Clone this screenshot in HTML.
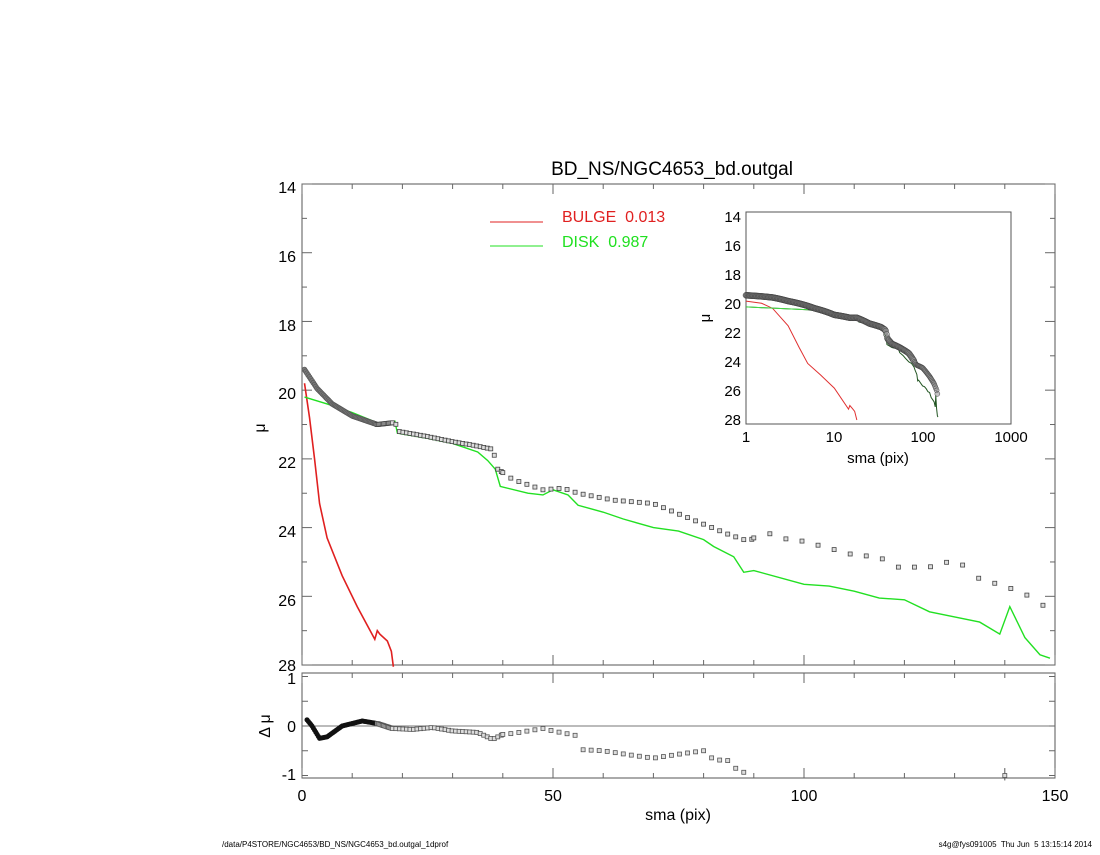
<!DOCTYPE html>
<html><head><meta charset="utf-8"><style>
html,body{margin:0;padding:0;background:#fff;}
svg text{font-family:"Liberation Sans",sans-serif;white-space:pre;}
</style></head><body>
<svg id="s" width="1100" height="850" xmlns="http://www.w3.org/2000/svg">
<rect width="1100" height="850" fill="#fff"/>
<text x="672" y="175" font-size="19" text-anchor="middle">BD_NS/NGC4653_bd.outgal</text>
<rect x="302" y="184" width="753" height="481" fill="none" stroke="#555" stroke-width="1"/>
<rect x="302" y="673" width="753" height="105" fill="none" stroke="#555" stroke-width="1"/>
<line x1="302" y1="726" x2="1055" y2="726" stroke="#777" stroke-width="1"/>
<g id="ticks" stroke="#666" stroke-width="1"></g>
<g font-size="16" text-anchor="end">
<text x="296" y="193">14</text><text x="296" y="262">16</text><text x="296" y="331">18</text>
<text x="296" y="399">20</text><text x="296" y="468">22</text><text x="296" y="537">24</text>
<text x="296" y="606">26</text><text x="296" y="671">28</text>
<text x="296" y="684">1</text><text x="296" y="732">0</text><text x="296" y="780">-1</text>
</g>
<g font-size="16" text-anchor="middle">
<text x="302" y="801">0</text><text x="553" y="801">50</text><text x="804" y="801">100</text><text x="1055" y="801">150</text>
<text x="678" y="820">sma (pix)</text>
</g>
<text x="265" y="428" font-size="16" transform="rotate(-90 265 428)" text-anchor="middle">μ</text>
<text x="270" y="726" font-size="16" transform="rotate(-90 270 726)" text-anchor="middle">Δ μ</text>
<line x1="490" y1="222" x2="543" y2="222" stroke="#e02020" stroke-width="1"/>
<line x1="490" y1="246" x2="543" y2="246" stroke="#20e020" stroke-width="1"/>
<text x="562" y="222" font-size="16" fill="#e02020">BULGE  0.013</text>
<text x="562" y="247" font-size="16" fill="#20e020">DISK  0.987</text>
<rect x="746" y="212" width="265" height="212" fill="#fff" stroke="#555" stroke-width="1"/>
<g font-size="15" text-anchor="end">
<text x="741" y="222">14</text><text x="741" y="251">16</text><text x="741" y="280">18</text>
<text x="741" y="309">20</text><text x="741" y="338">22</text><text x="741" y="367">24</text>
<text x="741" y="396">26</text><text x="741" y="425">28</text>
</g>
<g font-size="15" text-anchor="middle">
<text x="746" y="442">1</text><text x="834" y="442">10</text><text x="923" y="442">100</text><text x="1011" y="442">1000</text>
<text x="878" y="463">sma (pix)</text>
</g>
<text x="710" y="318" font-size="15" transform="rotate(-90 710 318)" text-anchor="middle">μ</text>
<g id="data"></g>
<text x="222" y="847" font-size="8">/data/P4STORE/NGC4653/BD_NS/NGC4653_bd.outgal_1dprof</text>
<text x="1092" y="847" font-size="8" text-anchor="end">s4g@fys091005  Thu Jun  5 13:15:14 2014</text>
</svg>
<script>
const NS="http://www.w3.org/2000/svg";
function el(t,a,p){const e=document.createElementNS(NS,t);for(const k in a)e.setAttribute(k,a[k]);(p||document.getElementById('data')).appendChild(e);return e;}
function interp(arr,s){if(s<=arr[0][0])return arr[0][1];for(let i=0;i<arr.length-1;i++){if(s>=arr[i][0]&&s<=arr[i+1][0]){const t=(s-arr[i][0])/(arr[i+1][0]-arr[i][0]);return arr[i][1]+t*(arr[i+1][1]-arr[i][1]);}}return arr[arr.length-1][1];}
const X=s=>302+s*5.02, Y=m=>184+(m-14)*34.36, YR=d=>726-d*49.5;
const XI=s=>746+Math.log10(s)*88.3, YI=m=>217+(m-14)*14.5;
const tk=document.getElementById('ticks');
for(let s=0;s<=150;s+=10){const big=s%50==0, L=big?10:5;
 el('line',{x1:X(s),y1:665,x2:X(s),y2:665-L},tk);el('line',{x1:X(s),y1:184,x2:X(s),y2:184+L},tk);
 el('line',{x1:X(s),y1:778,x2:X(s),y2:778-L},tk);el('line',{x1:X(s),y1:673,x2:X(s),y2:673+L},tk);}
for(let m=14;m<=28;m+=1){const big=m%2==0,L=big?10:5;
 el('line',{x1:302,y1:Y(m),x2:302+L,y2:Y(m)},tk);el('line',{x1:1055,y1:Y(m),x2:1055-L,y2:Y(m)},tk);}
for(let m=14;m<=28;m+=0.5){const big=m%2==0;
 el('line',{x1:746,y1:YI(m),x2:746+(big?6:3),y2:YI(m)},tk);el('line',{x1:1011,y1:YI(m),x2:1011-(big?6:3),y2:YI(m)},tk);}
for(let d=-1;d<=1;d+=0.5){el('line',{x1:302,y1:YR(d),x2:308,y2:YR(d)},tk);el('line',{x1:1055,y1:YR(d),x2:1049,y2:YR(d)},tk);}
for(let dec=0;dec<3;dec++)for(let k=1;k<10;k++){const x=XI(k*Math.pow(10,dec));const L=k==1?6:3;
 el('line',{x1:x,y1:424,x2:x,y2:424-L},tk);el('line',{x1:x,y1:212,x2:x,y2:212+L},tk);}
const obs=[[0.5,19.4],[3,19.95],[6,20.4],[10,20.75],[15,21.0],[18,20.95],[18.8,21.0],[19.2,21.2],[25,21.35],[30,21.5],[34,21.6],[38,21.72],[39,22.3],[40,22.4],[42,22.6],[45,22.75],[48,22.9],[52,22.85],[55,23.0],[62,23.2],[70,23.3],[75,23.6],[80,23.9],[85,24.2],[89,24.4],[92,24.1],[95,24.3],[100,24.4],[105,24.6],[110,24.8],[115,24.85],[118,25.15],[125,25.15],[128,25.0],[132,25.1],[135,25.5],[140,25.7],[145,26.0],[149,26.4]];
const obsIn=[[1,19.4],[2,19.55],[3,19.8],[6,20.3],[10,20.75],[15,20.95],[18,20.95],[25,21.35],[34,21.6],[38,21.8],[40,22.4],[45,22.75],[55,23.0],[70,23.4],[85,24.2],[100,24.4],[120,25.0],[135,25.5],[145,26.0],[149,26.4]];
const disk=[[0.5,20.2],[5,20.4],[10,20.65],[15,20.95],[18.5,20.9],[19,21.25],[25,21.4],[30,21.55],[35,21.8],[37,22.05],[38.5,22.3],[39.5,22.8],[45,23.0],[48,23.05],[50,22.9],[53,23.05],[55,23.35],[60,23.55],[64,23.75],[70,24.0],[75,24.1],[80,24.35],[82,24.55],[86,24.85],[88,25.3],[90,25.25],[100,25.65],[105,25.7],[110,25.85],[115,26.05],[120,26.1],[125,26.45],[130,26.6],[135,26.75],[139,27.1],[141,26.3],[144,27.2],[147,27.7],[149,27.8]];
const bulge=[[0.5,19.8],[1.5,20.8],[2.5,22],[3.5,23.3],[5,24.3],[8,25.4],[11,26.3],[14.5,27.25],[15,27.0],[15.5,27.1],[17,27.3],[17.8,27.6],[18.2,28.05]];
const bulgeIn=[[1,19.8],[1.5,19.95],[2,20.3],[3,21.5],[4,23.0],[5,24.1],[7,24.9],[10,25.8],[14.5,27.25],[15,27.0],[16,27.2],[17,27.4],[18,28.0]];
function poly(arr,fx,fy,c,w,p){el('polyline',{points:arr.map(a=>fx(a[0])+','+fy(a[1])).join(' '),fill:'none',stroke:c,'stroke-width':w},p);}
poly(bulge,X,Y,'#e02020',1.6);
poly(disk,X,Y,'#22e022',1.4);
let pts=[];for(let s=0.5;s<18;s+=0.25)pts.push(s);for(let s=18;s<40;s+=0.7)pts.push(s);for(let s=40;s<90;s+=1.6)pts.push(s);for(let s=90;s<150;s+=3.2)pts.push(s);
pts.forEach(s=>{const m=interp(obs,s);if(s<15){el('circle',{cx:X(s),cy:Y(m),r:2.5,fill:'#777',stroke:'#555','stroke-width':0.6});}else el('rect',{x:X(s)-2,y:Y(m)-2,width:4,height:4,fill:'#ddd',stroke:'#444','stroke-width':0.8});});
const res=[[0.8,0.15],[2,0],[3.5,-0.25],[5,-0.22],[8,0],[12,0.1],[15,0.05],[18,-0.05],[22,-0.07],[26,-0.03],[30,-0.1],[35,-0.13],[38,-0.27],[40,-0.17],[42,-0.15],[45,-0.1],[48,-0.05],[50,-0.1],[55,-0.2],[56,-0.48],[60,-0.5],[65,-0.58],[70,-0.65],[75,-0.57],[80,-0.5],[82,-0.68],[85,-0.7],[87,-0.92],[89,-0.95]];
pts.filter(s=>s>=0.8&&s<=89.5).forEach(s=>{const d=interp(res,s);if(s<15)el('circle',{cx:X(s),cy:YR(d),r:2.5,fill:'#111'});else el('rect',{x:X(s)-2,y:YR(d)-2,width:4,height:4,fill:'#ddd',stroke:'#555','stroke-width':0.8});});
el('line',{x1:X(140),y1:YR(-0.85),x2:X(140),y2:YR(-1.1),stroke:'#555'});
el('rect',{x:X(140)-2,y:YR(-1)-2,width:4,height:4,fill:'#ddd',stroke:'#555','stroke-width':0.8});
poly(bulgeIn,XI,YI,'#e03030',1);
poly(disk.filter(a=>a[0]>=1&&a[0]<=7).concat([]).map(a=>a),XI,YI,'#44dd44',1);
poly([[1,20.2]].concat(disk.filter(a=>a[0]>=5)),XI,YI,'#225522',1);
poly([[1,20.2],[5,20.4]],XI,YI,'#44dd44',1);
for(let s=1;s<=149;s*=1.02){const m=interp(obsIn,s);el('circle',{cx:XI(s),cy:YI(m),r:s>80?2.5:3,fill:'#888','fill-opacity':0.5,stroke:'#444','stroke-width':0.5});}
</script>
</body></html>
